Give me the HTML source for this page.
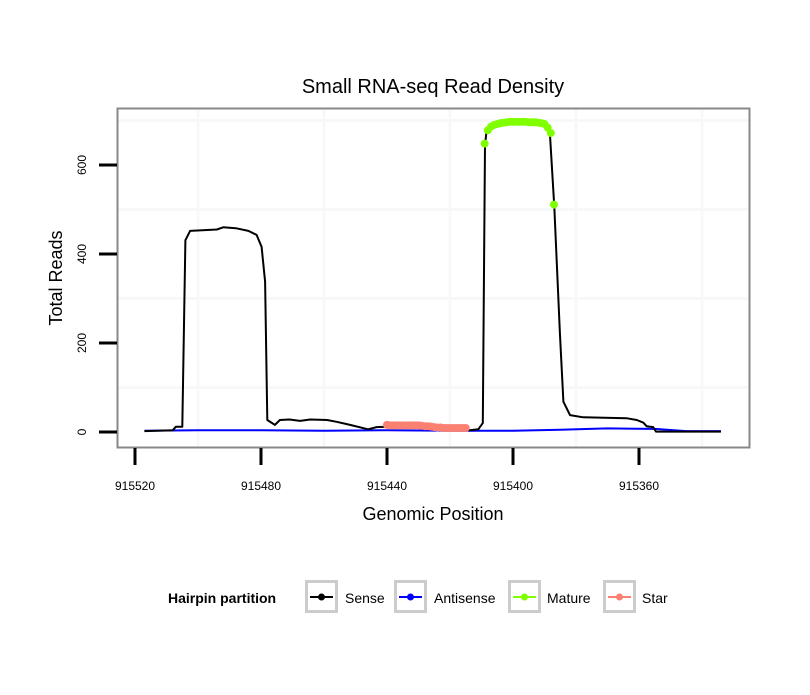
<!DOCTYPE html>
<html><head><meta charset="utf-8"><style>
body{margin:0;background:#fff;}
svg text{font-family:"Liberation Sans",sans-serif;}
</style></head><body>
<svg id="chart" width="810" height="690" xmlns="http://www.w3.org/2000/svg">
<text x="433" y="93" font-size="20" text-anchor="middle">Small RNA-seq Read Density</text>
<g id="grid"></g>
<g id="series"></g>
<rect x="117.5" y="108.5" width="632" height="339" fill="none" stroke="#888" stroke-width="2"/>
<g id="axes"></g>
<text x="433" y="520" font-size="18" text-anchor="middle">Genomic Position</text>
<text transform="translate(62,278) rotate(-90)" font-size="18" text-anchor="middle">Total Reads</text>
<g>
<text x="168" y="603" font-size="14" font-weight="bold">Hairpin partition</text>
<g><rect x="306.5" y="581.5" width="30" height="30" fill="#fff" stroke="#ccc" stroke-width="3"/><line x1="310" y1="597" x2="333" y2="597" stroke="#000" stroke-width="2"/><circle cx="321.5" cy="597" r="3.5" fill="#000"/><text x="345" y="603" font-size="14">Sense</text></g>
<g><rect x="395.5" y="581.5" width="30" height="30" fill="#fff" stroke="#ccc" stroke-width="3"/><line x1="399" y1="597" x2="422" y2="597" stroke="#00f" stroke-width="2"/><circle cx="410.5" cy="597" r="3.5" fill="#00f"/><text x="434" y="603" font-size="14">Antisense</text></g>
<g><rect x="509.5" y="581.5" width="30" height="30" fill="#fff" stroke="#ccc" stroke-width="3"/><line x1="513" y1="597" x2="536" y2="597" stroke="#7fff00" stroke-width="2"/><circle cx="524.5" cy="597" r="3.5" fill="#7fff00"/><text x="547" y="603" font-size="14">Mature</text></g>
<g><rect x="604.5" y="581.5" width="30" height="30" fill="#fff" stroke="#ccc" stroke-width="3"/><line x1="608" y1="597" x2="631" y2="597" stroke="#fa8072" stroke-width="2"/><circle cx="619.5" cy="597" r="3.5" fill="#fa8072"/><text x="642" y="603" font-size="14">Star</text></g>
</g>
</svg>
<script>
const xTicks=[915520,915480,915440,915400,915360];
const yTicks=[0,200,400,600];
const senseX=[915517,915508,915507,915505,915504,915502.5,915494,915492,915488,915484,915481.4,915479.8,915478.7,915478,915475.6,915474,915471,915467.6,915464.4,915459,915456,915451.7,915446,915443.3,915439.6,915430,915420,915413.7,915411,915409.6,915408.9,915408.4,915406.3,915397.8,915390.4,915388.3,915386.9,915385.1,915384,915381.9,915377.7,915364,915360.7,915358.6,915357.6,915355.5,915354.6,915334];
const senseY=[2,4,12,12,431,452,455,460,458,452,443,416,338,27,16,27,28,25,28,27,23,16,6,11,12,10,7,4,6,20,645,675,690,697,694,671,506,222,68,38,33,31,27,21,13,11,1,1];
const antiX=[915517,915500,915480,915460,915440,915420,915400,915385,915370,915355,915345,915334];
const antiY=[3,4,4,3,4,3,3,5,8,7,2,2];
const matureX=[915409,915408,915407,915406,915405,915404,915403,915402,915401,915400,915399,915398,915397,915396,915395,915394,915393,915392,915391,915390,915389,915388,915387];
const matureY=[648,678,686,690,692,694,695,696,697,697,697,697,697,697,696,696,696,695,694,692,684,672,511];
const starX=[915440,915439,915438,915437,915436,915435,915434,915433,915432,915431,915430,915429,915428,915427,915426,915425,915424,915423,915422,915421,915420,915419,915418,915417,915416,915415];
const starY=[16,15,15,15,15,15,15,15,15,15,15,14,13,13,12,11,10,10,9,9,9,9,9,9,9,9];
const NS="http://www.w3.org/2000/svg";
const sx=v=>135+(915520-v)*3.15;
const sy=v=>432-v*0.445;
function mk(tag,attrs,parent){const e=document.createElementNS(NS,tag);for(const k in attrs)e.setAttribute(k,attrs[k]);parent.appendChild(e);return e;}
const grid=document.getElementById('grid'),ser=document.getElementById('series'),ax=document.getElementById('axes');
for(let i=0;i<xTicks.length;i++){const m=sx(xTicks[i]-20);
 const g=mk('line',{x1:m,x2:m,y1:109,y2:447,stroke:'#f8f8f8','stroke-width':3},grid);
 
 }
for(let i=0;i<yTicks.length;i++){const m=sy(yTicks[i]+100);
 const g=mk('line',{x1:118,x2:749,y1:m,y2:m,stroke:'#f8f8f8','stroke-width':3},grid);
 
 }
xTicks.forEach(t=>{const x=sx(t);
 const l=mk('line',{x1:x,x2:x,y1:448,y2:465,stroke:'#000','stroke-width':3},ax);
 
 
 const tx=mk('text',{x:x,y:490,'font-size':12,'text-anchor':'middle'},ax);tx.textContent=t;
 
 });
yTicks.forEach(t=>{const y=sy(t);
 const l=mk('line',{x1:99,x2:117,y1:y,y2:y,stroke:'#000','stroke-width':3},ax);
 
 
 const tx=mk('text',{transform:`translate(86,${y}) rotate(-90)`,'font-size':12,'text-anchor':'middle'},ax);tx.textContent=t;
 
 });
function line(X,Y,color,name,w){const d=X.map((v,i)=>(i?'L':'M')+sx(v).toFixed(1)+','+sy(Y[i]).toFixed(1)).join('');
 const p=mk('path',{d:d,fill:'none',stroke:color,'stroke-width':w,'stroke-linejoin':'round'},ser);
 
 }
function pts(X,Y,color,name){X.forEach((v,i)=>{const c=mk('circle',{cx:sx(v),cy:sy(Y[i]),r:4,fill:color},ser);
 
 });}
line(antiX,antiY,'#00f','antisense-line',2);
line(senseX,senseY,'#000','sense-line',2);
pts(starX,starY,'#fa8072','star-point');
pts(matureX,matureY,'#7fff00','mature-point');
</script>
</body></html>
